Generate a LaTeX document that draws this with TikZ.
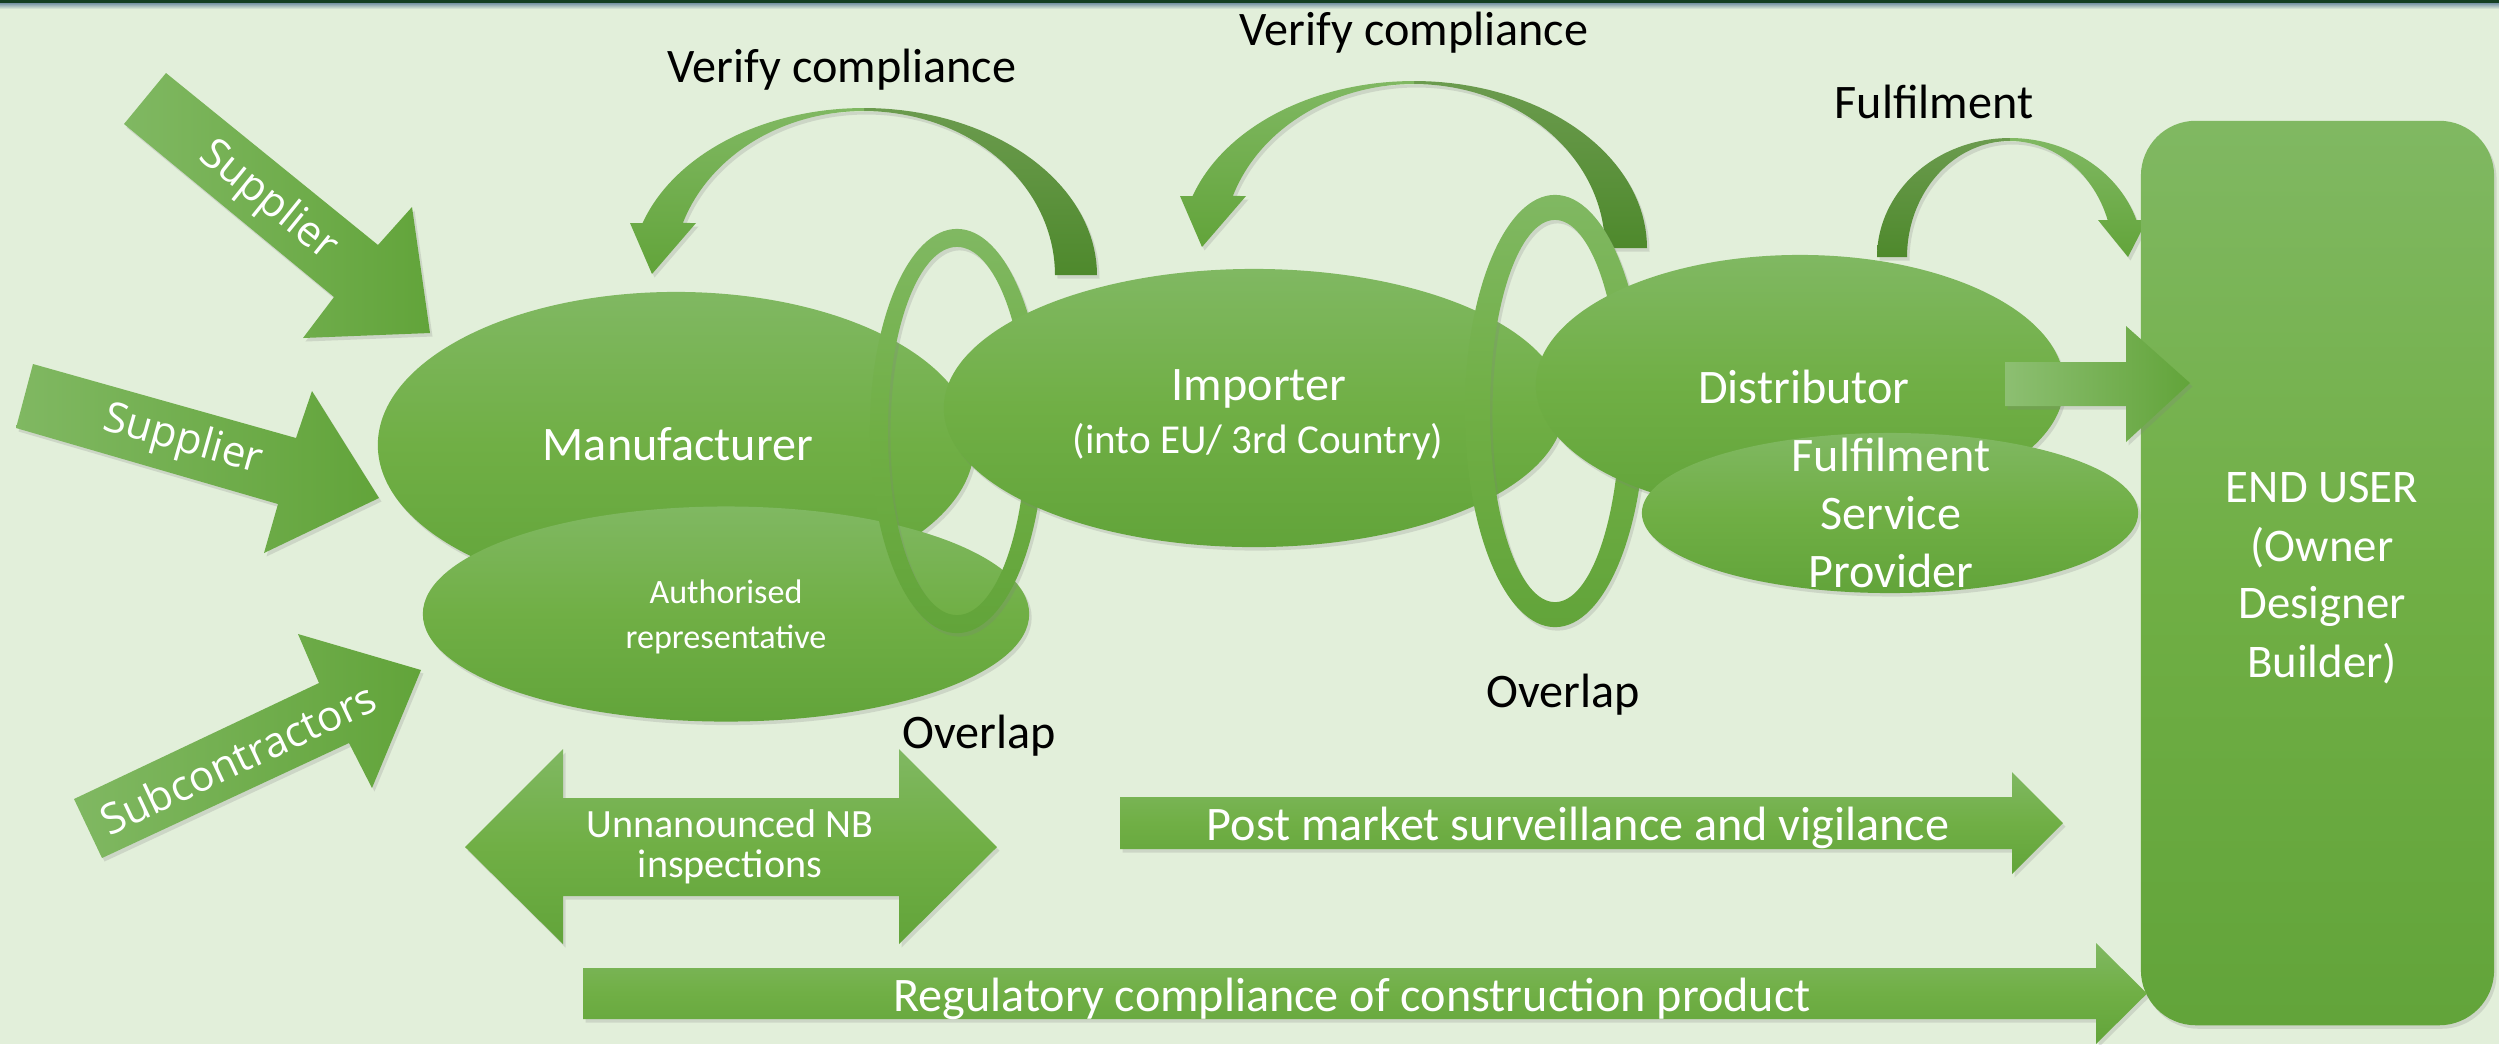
\documentclass[tikz,border=0pt]{standalone}
\usepackage{fontspec}
\setmainfont{Carlito}
\newfontfamily\segoe{Open Sans}
\usetikzlibrary{shapes.geometric,shadows}
\definecolor{bg}{HTML}{E2EFDA}
\definecolor{topdark}{HTML}{143F22}
\definecolor{topblue}{HTML}{7F9BA8}
\definecolor{gtop}{HTML}{80B862}
\definecolor{gmid}{HTML}{70AF45}
\definecolor{gbot}{HTML}{62A43A}
\definecolor{dtop}{HTML}{6B9B4E}
\definecolor{dbot}{HTML}{4E892C}
\tikzset{
  gfill/.style={top color=gtop, bottom color=gbot, middle color=gmid},
  gside/.style={left color=gtop, right color=gbot},
  shd/.style={drop shadow={shadow xshift=0.025cm, shadow yshift=-0.035cm, opacity=0.22}},
  ringshd/.style={drop shadow={shadow xshift=0.025cm, shadow yshift=-0.035cm, opacity=0.22, even odd rule}},
  oval/.style={ellipse, inner sep=0pt, gfill, shd},
  frontpart/.style={top color=gtop, bottom color=gbot, shd},
  backpart/.style={top color=dtop, bottom color=dbot, shd},
  wl/.style={text=white, inner sep=0pt, anchor=base, font={\fontsize{13.7}{16}\selectfont}},
  bl/.style={text=black, inner sep=0pt, anchor=base, font={\fontsize{13.7}{16}\selectfont}},
  sl/.style={text=white, inner sep=0pt, font={\segoe\fontsize{12}{14}\selectfont}},
}
\newcommand{\verifyarrow}{%
  \path[backpart] (864,108) -- plot[domain=90:0,samples=40] ({864+233*cos(\x)},{275-167*sin(\x)})
     -- (1055,275) -- plot[domain=0:90,samples=40] ({864+191*cos(\x)},{275-164*sin(\x)}) -- cycle;
  \path[frontpart] (864,108) -- plot[domain=90:161.9,samples=40] ({864+233*cos(\x)},{275-167*sin(\x)})
     -- (630,223) -- (652,274) -- (696,223)
     -- plot[domain=161.5:90,samples=40] ({864+191*cos(\x)},{275-164*sin(\x)}) -- cycle;
}
\begin{document}
\begin{tikzpicture}[x=0.01cm,y=-0.01cm]
\useasboundingbox (0,0) rectangle (2499,1044);
\fill[bg] (0,0) rectangle (2499,1044);
\fill[topdark] (0,0) rectangle (2499,3.5);
\shade[top color=topblue, bottom color=bg] (0,3.5) rectangle (2499,9);

% input arrows
\path[gside, shd] (166,73) -- (378,245) -- (412,207) -- (430,333) -- (303,338) -- (334,297) -- (124,124) -- cycle;
\path[gside, shd] (33,364) -- (296,438) -- (312,391) -- (379,498) -- (264,553) -- (278,504) -- (16,428) -- cycle;
\path[gside, shd] (74,799) -- (319,683) -- (298,634) -- (421,670) -- (372,788) -- (349,743) -- (102,858) -- cycle;

% verify compliance arrows
\begin{scope}\verifyarrow\end{scope}
\begin{scope}[shift={(550,-27)}]\verifyarrow\end{scope}

% actors
\node[oval, minimum width=5.96cm, minimum height=3.06cm] (manu) at (676,445) {};
\node[oval, minimum width=6.06cm, minimum height=2.15cm] (auth) at (726,614) {};
\path[gfill, ringshd, even odd rule] (957,431) ellipse [x radius=0.87cm, y radius=2.02cm]
      (957,431) ellipse [x radius=0.69cm, y radius=1.84cm];
\node[oval, minimum width=6.20cm, minimum height=2.78cm] (imp) at (1254,408) {};
\path[gfill, ringshd, even odd rule] (1555,411) ellipse [x radius=0.90cm, y radius=2.16cm]
      (1555,411) ellipse [x radius=0.65cm, y radius=1.91cm];
\node[oval, minimum width=5.28cm, minimum height=2.60cm] (dist) at (1800,385) {};
\node[oval, minimum width=4.96cm, minimum height=1.60cm] (fsp) at (1890,513) {};

% fulfilment curved arrow
\path[backpart] (2010,138) -- plot[domain=90:180,samples=40] ({2010+133*cos(\x)},{257-119*sin(\x)})
   -- (1907,257) -- plot[domain=180:90,samples=40] ({2010+103*cos(\x)},{257-116*sin(\x)}) -- cycle;
\path[frontpart] (2010,138) -- plot[domain=90:18.1,samples=40] ({2010+133*cos(\x)},{257-119*sin(\x)})
   -- (2147,220) -- (2128,257) -- (2098,220)
   -- plot[domain=18.6:90,samples=40] ({2010+103*cos(\x)},{257-116*sin(\x)}) -- cycle;

% end user
\node[rectangle, rounded corners=0.55cm, minimum width=3.53cm, minimum height=9.04cm, inner sep=0pt, gfill, shd] (enduser) at (2317.5,573) {};

% distributor -> end user
\path[left color=gtop!90, right color=gbot, shd] (2005,362) -- (2126,362) -- (2126,326) -- (2190,383) -- (2126,442) -- (2126,406) -- (2005,406) -- cycle;

% bottom arrows
\path[gfill, shd] (465,847) -- (563,749) -- (563,798) -- (899,798) -- (899,749) -- (997,847) -- (899,944) -- (899,896) -- (563,896) -- (563,944) -- cycle;
\path[gfill, shd] (1120,797) -- (2012,797) -- (2012,772) -- (2063,823) -- (2012,874) -- (2012,849) -- (1120,849) -- cycle;
\path[gfill, shd] (583,968) -- (2096,968) -- (2096,943) -- (2147,993.5) -- (2096,1044) -- (2096,1019) -- (583,1019) -- cycle;

% labels
\node[sl, rotate=-39] (tsup1) at (268,201) {Supplier};
\node[sl, rotate=-15.7] (tsup2) at (183,441) {Supplier};
\node[sl, rotate=25.3] (tsub) at (238,758) {Subcontractors};

\node[wl] (tmanu) at (678,460) {Manufacturer};
\node[wl, font={\fontsize{9.7}{12}\selectfont}] (tauth1) at (726,603) {Authorised};
\node[wl, font={\fontsize{9.7}{12}\selectfont}] (tauth2) at (726,648) {representative};
\node[wl] (timp1) at (1259,400) {Importer};
\node[wl, font={\fontsize{11.7}{14}\selectfont}] (timp2) at (1258,453) {(into EU/ 3rd Country)};
\node[wl] (tdist) at (1804,403) {Distributor};
\node[wl] (tfsp1) at (1891,471) {Fulfilment};
\node[wl] (tfsp2) at (1891,529) {Service};
\node[wl] (tfsp3) at (1891,587) {Provider};
\node[wl, font={\fontsize{13.3}{16}\selectfont}] (teu1) at (2322,502) {END USER};
\node[wl, font={\fontsize{13.3}{16}\selectfont}] (teu2) at (2322,561) {(Owner};
\node[wl, font={\fontsize{13.3}{16}\selectfont}] (teu3) at (2322,618) {Designer};
\node[wl, font={\fontsize{13.3}{16}\selectfont}] (teu4) at (2322,677) {Builder)};
\node[wl, font={\fontsize{11.4}{13}\selectfont}] (tun1) at (730,837) {Unnanounced NB};
\node[wl, font={\fontsize{11.4}{13}\selectfont}] (tun2) at (730,877) {inspections};
\node[wl] (tpost) at (1578,840) {Post market surveillance and vigilance};
\node[wl] (treg) at (1352,1011) {Regulatory compliance of construction product};

\node[bl] (tver1) at (842,82) {Verify compliance};
\node[bl] (tver2) at (1414,45) {Verify compliance};
\node[bl] (tful) at (1934,118) {Fulfilment};
\node[bl] (tov1) at (979,748) {Overlap};
\node[bl] (tov2) at (1563,707) {Overlap};
\end{tikzpicture}
\end{document}
